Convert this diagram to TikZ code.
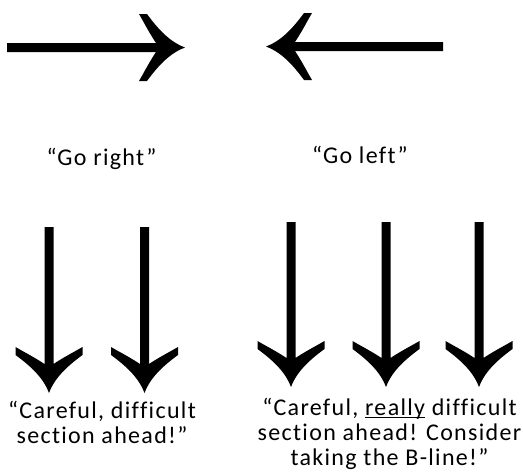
\documentclass[tikz,border=0pt]{standalone}
\usepackage{fontspec}
\setmainfont{Carlito}[LetterSpace=5.5,Ligatures=NoCommon]
\newcommand\fatarrow[4]{% tip x, tip y, rotation, length
  \fill[arrowfill,shift={(#1,#2)},rotate=#3]
    (-#4,4.5) -- (-29,4.5)
    .. controls (-36,15) and (-41,25) .. (-46,33.5) -- (-38,33.5)
    .. controls (-26,17) and (-14,5) .. (0,0)
    .. controls (-14,-5) and (-26,-17) .. (-38,-33.5) -- (-46,-33.5)
    .. controls (-41,-25) and (-36,-15) .. (-29,-4.5)
    -- (-#4,-4.5) -- cycle;}
\newcommand\myul[1]{\setbox0\hbox{#1}\rlap{\rule[-3pt]{\wd0}{1.3pt}}\box0\relax}
\begin{document}
\begin{tikzpicture}[x=1pt,y=-1pt,
  arrowfill/.style={fill=black},
  lbl/.style={inner sep=0pt,font=\fontsize{24}{25}\selectfont,text=black}]
\useasboundingbox (0,0) rectangle (523,475);
% horizontal arrows
\fatarrow{185}{47.5}{0}{178}
\fatarrow{266}{46.5}{180}{177}
% left group
\fatarrow{49}{393}{-90}{166}
\fatarrow{144.5}{393}{-90}{166}
% right group
\fatarrow{291}{387}{-90}{165}
\fatarrow{386}{387}{-90}{165}
\fatarrow{479}{387}{-90}{165}
% labels (base anchor = baseline of the last line)
\node[lbl,anchor=base] (goright) at (101.5,165) {“Go right”};
\node[lbl,anchor=base] (goleft) at (360,163) {“Go left”};
\node[lbl,anchor=base,align=center] (careful) at (102,443)
  {“Careful, difficult\\section ahead!”};
\node[lbl,anchor=base,align=center] (really) at (389.5,465)
  {“Careful, \myul{really} difficult\\section ahead! Consider\\taking the B-line!”};
\end{tikzpicture}
\end{document}
